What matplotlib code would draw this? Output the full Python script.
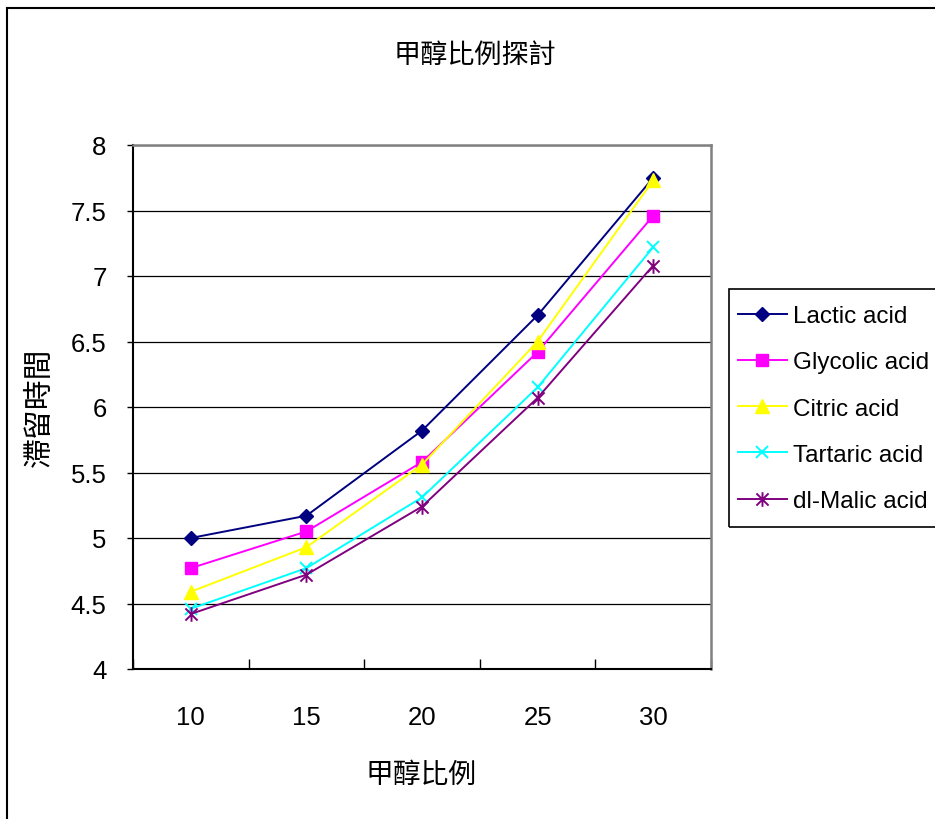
import matplotlib
matplotlib.use("Agg")
import matplotlib.pyplot as plt
from matplotlib.patches import Rectangle
from matplotlib.path import Path

# data
methanol_ratio = ["10", "15", "20", "25", "30"]
lactic = [5.00, 5.17, 5.82, 6.70, 7.75]
glycolic = [4.77, 5.05, 5.58, 6.42, 7.46]
citric = [4.59, 4.93, 5.56, 6.50, 7.73]
tartaric = [4.46, 4.77, 5.31, 6.15, 7.22]
malic = [4.42, 4.72, 5.24, 6.07, 7.08]
series_names = ["Lactic acid", "Glycolic acid", "Citric acid", "Tartaric acid", "dl-Malic acid"]
y_ticks = [4, 4.5, 5, 5.5, 6, 6.5, 7, 7.5, 8]

title = "甲醇比例探討"
x_title = "甲醇比例"
y_title = "滯留時間"

cjk = ["Noto Sans CJK TC", "DejaVu Sans"]
latin = ["Liberation Sans", "DejaVu Sans"]

# excel style asterisk: an x with a vertical bar
star = Path([(-0.5, -0.5), (0.5, 0.5), (-0.5, 0.5), (0.5, -0.5), (0, -0.6), (0, 0.6)],
            [Path.MOVETO, Path.LINETO, Path.MOVETO, Path.LINETO, Path.MOVETO, Path.LINETO])

styles = [
    dict(color="#000080", marker="D", markersize=7.5),
    dict(color="#FF00FF", marker="s", markersize=9),
    dict(color="#FFFF00", marker="^", markersize=10),
    dict(color="#00FFFF", marker="x", markersize=9, markeredgewidth=1.4),
    dict(color="#800080", marker=star, markersize=10.5, markeredgewidth=1.4, markerfacecolor="none"),
]

fig = plt.figure(figsize=(9.35, 8.2), dpi=100)
ax = fig.add_axes([133 / 935, 1 - 670 / 820, (711 - 133) / 935, (670 - 146) / 820])

x = list(range(len(methanol_ratio)))
for name, values, st in zip(series_names, [lactic, glycolic, citric, tartaric, malic], styles):
    ax.plot(x, values, label=name, linewidth=1.4, zorder=3, **st)

ax.set_xlim(-0.5, len(methanol_ratio) - 0.5)
ax.set_ylim(4, 8)
ax.set_yticks(y_ticks, labels=[f"{v:g}" for v in y_ticks])
ax.set_xticks(x, labels=methanol_ratio)
ax.set_xticks([i - 0.5 for i in range(len(methanol_ratio) + 1)], minor=True)
ax.tick_params(axis="x", which="major", length=0, pad=26, labelsize=18.5)
ax.tick_params(axis="x", which="minor", direction="in", length=7, width=1, color="black")
ax.tick_params(axis="y", which="major", direction="out", length=4, width=1, pad=15, labelsize=18.5)
for lab in ax.get_xticklabels() + ax.get_yticklabels():
    lab.set_family(latin)

ax.grid(axis="y", color="black", linewidth=0.9, zorder=1)
ax.set_axisbelow(True)
for side in ["left", "bottom"]:
    ax.spines[side].set_color("black")
    ax.spines[side].set_linewidth(1.5)
for side in ["top", "right"]:
    ax.spines[side].set_color("#808080")
    ax.spines[side].set_linewidth(1.8)

fig.text(475 / 935, 1 - 55 / 820, title, ha="center", va="center", fontsize=19.5, family=cjk)
fig.text(421 / 935, 1 - 775 / 820, x_title, ha="center", va="center", fontsize=20, family=cjk)
fig.text(39 / 935, 1 - 407 / 820, y_title, ha="center", va="center", fontsize=21.5, family=cjk, rotation=90)

# legend entries without their own frame, the box is drawn separately below
leg = fig.legend(loc="upper left", bbox_to_anchor=(738 / 935, 1 - 306 / 820),
                 prop={"family": latin, "size": 17.5}, frameon=False,
                 handlelength=2.0, handletextpad=0.25, labelspacing=1.0,
                 borderpad=0, borderaxespad=0)
fig.patches.append(Rectangle((729 / 935, 1 - 528 / 820), 0.4, (528 - 290) / 820,
                             transform=fig.transFigure, fill=False,
                             edgecolor="black", linewidth=1.2))

# outer chart border, runs off the right and bottom edges like the reference
fig.patches.append(Rectangle((7 / 935, -0.1), 1.2, 1.1 - 9 / 820, transform=fig.transFigure,
                             fill=False, edgecolor="black", linewidth=1.5))

fig.savefig("out.png", dpi=100)
